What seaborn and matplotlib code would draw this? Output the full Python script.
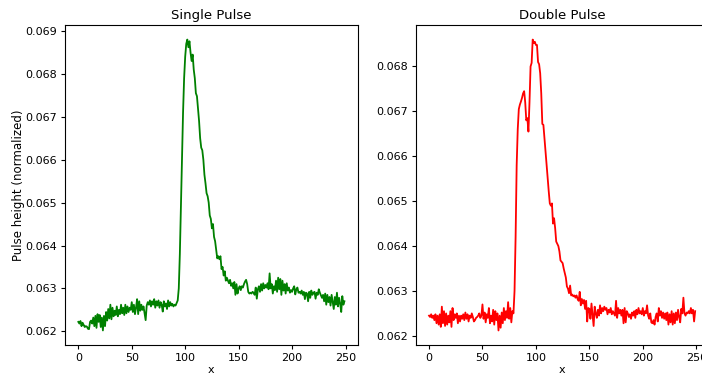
import matplotlib
matplotlib.use("Agg")
import matplotlib.pyplot as plt
import numpy as np
import pandas as pd
import seaborn as sns

# pulse height, one value per sample (0..249)
single_pulse = [
    0.06222, 0.06218, 0.06224, 0.06212, 0.06220, 0.06215, 0.06210, 0.06212, 0.06211, 0.06206,
    0.06205, 0.06222, 0.06225, 0.06218, 0.06232, 0.06212, 0.06236, 0.06208, 0.06240, 0.06222,
    0.06238, 0.06210, 0.06232, 0.06202, 0.06236, 0.06212, 0.06245, 0.06225, 0.06252, 0.06230,
    0.06262, 0.06228, 0.06255, 0.06235, 0.06248, 0.06238, 0.06258, 0.06235, 0.06250, 0.06240,
    0.06262, 0.06242, 0.06255, 0.06238, 0.06262, 0.06242, 0.06258, 0.06245, 0.06255, 0.06250,
    0.06268, 0.06245, 0.06262, 0.06240, 0.06255, 0.06275, 0.06240, 0.06270, 0.06248, 0.06262,
    0.06250, 0.06258, 0.06242, 0.06226, 0.06260, 0.06268, 0.06262, 0.06272, 0.06258, 0.06270,
    0.06262, 0.06275, 0.06255, 0.06270, 0.06260, 0.06272, 0.06255, 0.06268, 0.06262, 0.06246,
    0.06270, 0.06258, 0.06265, 0.06252, 0.06272, 0.06258, 0.06268, 0.06260, 0.06264, 0.06258,
    0.06262, 0.06260, 0.06266, 0.06272, 0.06300, 0.06380, 0.06490, 0.06610, 0.06710, 0.06790,
    0.06840, 0.06870, 0.06880, 0.06862, 0.06876, 0.06850, 0.06830, 0.06845, 0.06810, 0.06790,
    0.06755, 0.06748, 0.06720, 0.06690, 0.06650, 0.06628, 0.06622, 0.06600, 0.06565, 0.06545,
    0.06522, 0.06515, 0.06500, 0.06470, 0.06462, 0.06440, 0.06450, 0.06420, 0.06410, 0.06390,
    0.06370, 0.06375, 0.06368, 0.06375, 0.06345, 0.06350, 0.06330, 0.06340, 0.06318, 0.06325,
    0.06318, 0.06312, 0.06320, 0.06306, 0.06312, 0.06300, 0.06315, 0.06285, 0.06310, 0.06288,
    0.06300, 0.06305, 0.06296, 0.06305, 0.06302, 0.06310, 0.06316, 0.06320, 0.06310, 0.06292,
    0.06288, 0.06290, 0.06288, 0.06292, 0.06290, 0.06285, 0.06302, 0.06276, 0.06298, 0.06305,
    0.06292, 0.06310, 0.06295, 0.06312, 0.06300, 0.06308, 0.06302, 0.06312, 0.06298, 0.06335,
    0.06300, 0.06310, 0.06288, 0.06305, 0.06296, 0.06318, 0.06292, 0.06325, 0.06298, 0.06322,
    0.06285, 0.06318, 0.06295, 0.06310, 0.06288, 0.06312, 0.06295, 0.06302, 0.06290, 0.06296,
    0.06292, 0.06300, 0.06305, 0.06286, 0.06298, 0.06302, 0.06290, 0.06292, 0.06288, 0.06295,
    0.06285, 0.06292, 0.06275, 0.06290, 0.06288, 0.06270, 0.06292, 0.06278, 0.06295, 0.06285,
    0.06290, 0.06292, 0.06276, 0.06290, 0.06285, 0.06298, 0.06290, 0.06284, 0.06278, 0.06285,
    0.06270, 0.06288, 0.06262, 0.06285, 0.06268, 0.06280, 0.06260, 0.06285, 0.06268, 0.06252,
    0.06280, 0.06262, 0.06290, 0.06258, 0.06278, 0.06265, 0.06245, 0.06282, 0.06262, 0.06270,
]

double_pulse = [
    0.06245, 0.06242, 0.06248, 0.06240, 0.06245, 0.06235, 0.06248, 0.06228, 0.06245, 0.06225,
    0.06248, 0.06220, 0.06265, 0.06228, 0.06255, 0.06222, 0.06250, 0.06225, 0.06245, 0.06230,
    0.06255, 0.06220, 0.06262, 0.06235, 0.06248, 0.06240, 0.06250, 0.06228, 0.06245, 0.06232,
    0.06245, 0.06238, 0.06248, 0.06235, 0.06252, 0.06238, 0.06248, 0.06232, 0.06245, 0.06240,
    0.06250, 0.06242, 0.06232, 0.06235, 0.06240, 0.06242, 0.06245, 0.06250, 0.06240, 0.06245,
    0.06270, 0.06238, 0.06252, 0.06230, 0.06248, 0.06240, 0.06262, 0.06228, 0.06245, 0.06232,
    0.06258, 0.06225, 0.06255, 0.06235, 0.06250, 0.06212, 0.06245, 0.06218, 0.06252, 0.06228,
    0.06262, 0.06235, 0.06255, 0.06240, 0.06275, 0.06238, 0.06262, 0.06230, 0.06255, 0.06250,
    0.06300, 0.06420, 0.06580, 0.06660, 0.06705, 0.06715, 0.06722, 0.06730, 0.06740, 0.06745,
    0.06720, 0.06680, 0.06685, 0.06655, 0.06720, 0.06800, 0.06808, 0.06860, 0.06852, 0.06855,
    0.06848, 0.06848, 0.06810, 0.06805, 0.06785, 0.06740, 0.06672, 0.06670, 0.06640, 0.06610,
    0.06580, 0.06550, 0.06522, 0.06495, 0.06490, 0.06495, 0.06450, 0.06462, 0.06440, 0.06410,
    0.06405, 0.06400, 0.06388, 0.06368, 0.06365, 0.06362, 0.06350, 0.06340, 0.06330, 0.06310,
    0.06305, 0.06295, 0.06312, 0.06290, 0.06292, 0.06288, 0.06290, 0.06285, 0.06290, 0.06282,
    0.06278, 0.06298, 0.06268, 0.06282, 0.06272, 0.06280, 0.06260, 0.06278, 0.06232, 0.06262,
    0.06260, 0.06238, 0.06272, 0.06248, 0.06222, 0.06265, 0.06250, 0.06240, 0.06258, 0.06245,
    0.06268, 0.06250, 0.06262, 0.06255, 0.06265, 0.06258, 0.06262, 0.06248, 0.06258, 0.06252,
    0.06262, 0.06248, 0.06255, 0.06250, 0.06245, 0.06278, 0.06240, 0.06262, 0.06250, 0.06258,
    0.06245, 0.06258, 0.06228, 0.06262, 0.06230, 0.06255, 0.06250, 0.06242, 0.06248, 0.06238,
    0.06252, 0.06245, 0.06255, 0.06240, 0.06258, 0.06248, 0.06262, 0.06250, 0.06255, 0.06248,
    0.06262, 0.06245, 0.06255, 0.06250, 0.06268, 0.06245, 0.06238, 0.06250, 0.06230, 0.06228,
    0.06235, 0.06225, 0.06242, 0.06250, 0.06232, 0.06262, 0.06245, 0.06255, 0.06240, 0.06252,
    0.06238, 0.06250, 0.06235, 0.06252, 0.06225, 0.06248, 0.06230, 0.06255, 0.06225, 0.06250,
    0.06228, 0.06252, 0.06235, 0.06258, 0.06242, 0.06230, 0.06260, 0.06250, 0.06285, 0.06250,
    0.06245, 0.06252, 0.06250, 0.06255, 0.06250, 0.06262, 0.06250, 0.06258, 0.06232, 0.06255,
]

titles = ["Single Pulse", "Double Pulse"]
colors = ["green", "red"]

df = pd.DataFrame({
    "x": np.arange(len(single_pulse)),
    "single": single_pulse,
    "double": double_pulse,
})

fig, axes = plt.subplots(1, 2, figsize=(7.02, 3.75), dpi=100)
axes[0].set_position([0.0926, 0.08, 0.417, 0.8533])
axes[1].set_position([0.5922, 0.08, 0.417, 0.8533])

for ax, col, title, color in zip(axes, ["single", "double"], titles, colors):
    sns.lineplot(data=df, x="x", y=col, color=color, linewidth=1.3, ax=ax)
    ax.set_title(title, fontsize=9.5, pad=4)
    ax.set_xlabel("x", fontsize=8, labelpad=1.5)
    ax.set_ylabel("")
    ax.tick_params(labelsize=8, length=3, pad=2.5)

# y label only on the left panel
axes[0].set_ylabel("Pulse height (normalized)", fontsize=8.5, labelpad=0.5)

fig.savefig("out.png", dpi=100)
